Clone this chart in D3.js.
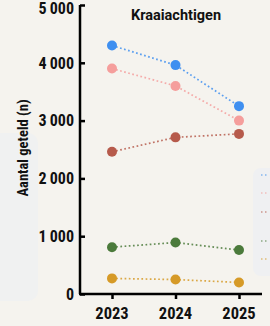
<!DOCTYPE html>
<html>
<head>
<meta charset="utf-8">
<script src="https://cdn.jsdelivr.net/npm/d3@7"></script>
<style>
  body { margin: 0; background: #f5f3ee; }
  svg { display: block; }
</style>
</head>
<body>
<svg id="chart" width="270" height="326"></svg>
<script>
var years = [2023, 2024, 2025];
var seriesNames = ['Kauw', 'Zwarte kraai', 'Ekster', 'Roek', 'Gaai'];
var seriesColors = ['#3f8ff0', '#f59e9c', '#b65a4b', '#4b7a3b', '#d69a27'];
var kauw = [4300, 3960, 3250];
var zwarteKraai = [3900, 3600, 3000];
var ekster = [2460, 2710, 2770];
var roek = [810, 890, 760];
var gaai = [270, 250, 200];
var seriesValues = [kauw, zwarteKraai, ekster, roek, gaai];
var yTicks = [0, 1000, 2000, 3000, 4000, 5000];

var svg = d3.select('#chart');
var numFont = '"Liberation Sans Narrow", "Roboto Condensed", Roboto, sans-serif';

// background panels
svg.append('rect').attr('width', 270).attr('height', 326).attr('fill', '#f5f3ee');
svg.append('rect').attr('x', -12).attr('y', 133).attr('width', 50).attr('height', 168).attr('rx', 10)
    .attr('fill', '#f0f1f1');
svg.append('rect').attr('x', 253).attr('y', 168).attr('width', 40).attr('height', 108).attr('rx', 8)
    .attr('fill', '#eff0f2');

var x = d3.scalePoint().domain(years).range([112, 239]);
var y = d3.scaleLinear().domain([0, 5000]).range([294, 5]);

// lines
var line = d3.line().x(function(d, i){ return x(years[i]); }).y(function(d){ return y(d); });
var g = svg.append('g');
for (var i = 0; i < seriesValues.length; i++){
    g.append('path').attr('d', line(seriesValues[i])).attr('fill', 'none')
        .attr('stroke', seriesColors[i]).attr('stroke-width', 1.7).attr('stroke-dasharray', '1.7 2.5')
        .attr('opacity', 0.85);
}
for (var i = 0; i < seriesValues.length; i++){
    g.selectAll(null).data(seriesValues[i]).enter().append('circle')
        .attr('cx', function(d, j){ return x(years[j]); })
        .attr('cy', function(d){ return y(d); })
        .attr('r', 5).attr('fill', seriesColors[i]);
}

// axes
var yAxis = d3.axisRight(y).tickValues(yTicks).tickSize(5).tickFormat('');
var yg = svg.append('g').attr('transform', 'translate(80,0)').call(yAxis);
yg.select('.domain').attr('d', 'M0,5V294').attr('stroke', '#000').attr('stroke-width', 2.5);
yg.selectAll('.tick line').attr('stroke', '#000').attr('stroke-width', 2.5);

// top label pushed down a bit so it stays inside the frame
svg.selectAll('.ylab').data(yTicks).enter().append('text').attr('class', 'ylab')
    .attr('x', 74).attr('y', function(d){ return Math.max(y(d), 8.5); }).attr('dy', '0.36em')
    .attr('text-anchor', 'end').attr('font-family', numFont).attr('font-weight', 'bold')
    .attr('font-size', '16px').attr('fill', '#111')
    .text(function(d){ return d == 0 ? '0' : d3.format(',')(d).replace(',', '\u2009'); });

var xAxis = d3.axisBottom(x).tickSize(5).tickSizeOuter(0).tickFormat('');
var xg = svg.append('g').attr('transform', 'translate(0,294)').call(xAxis);
xg.select('.domain').attr('d', 'M79,0H262').attr('stroke', '#000').attr('stroke-width', 2.5);
xg.selectAll('.tick line').attr('stroke', '#000').attr('stroke-width', 2.5);

svg.selectAll('.xlab').data(years).enter().append('text').attr('class', 'xlab')
    .attr('x', function(d){ return x(d); }).attr('y', 319)
    .attr('text-anchor', 'middle').attr('font-family', numFont).attr('font-weight', 'bold')
    .attr('font-size', '16.5px').attr('fill', '#111').text(function(d){ return d; });

// titles
svg.append('text').attr('x', 176).attr('y', 20).attr('text-anchor', 'middle')
    .attr('font-family', 'Roboto, sans-serif').attr('font-weight', 'bold').attr('font-size', '14.5px')
    .attr('fill', '#111').text('Kraaiachtigen');
svg.append('text').attr('transform', 'translate(28,148) rotate(-90)').attr('text-anchor', 'middle')
    .attr('font-family', numFont).attr('font-weight', 'bold').attr('font-size', '14.5px')
    .attr('fill', '#111').text('Aantal geteld (n)');

// legend samples (rest is cut off at the edge)
var legY = [175, 193, 212, 241, 259];
svg.selectAll('.leg').data(seriesNames).enter().append('line').attr('class', 'leg')
    .attr('x1', 261).attr('x2', 268)
    .attr('y1', function(d, i){ return legY[i]; }).attr('y2', function(d, i){ return legY[i]; })
    .attr('stroke', function(d, i){ return seriesColors[i]; }).attr('stroke-width', 1.5)
    .attr('stroke-dasharray', '1.5 2.5').attr('opacity', 0.6);
</script>
</body>
</html>
